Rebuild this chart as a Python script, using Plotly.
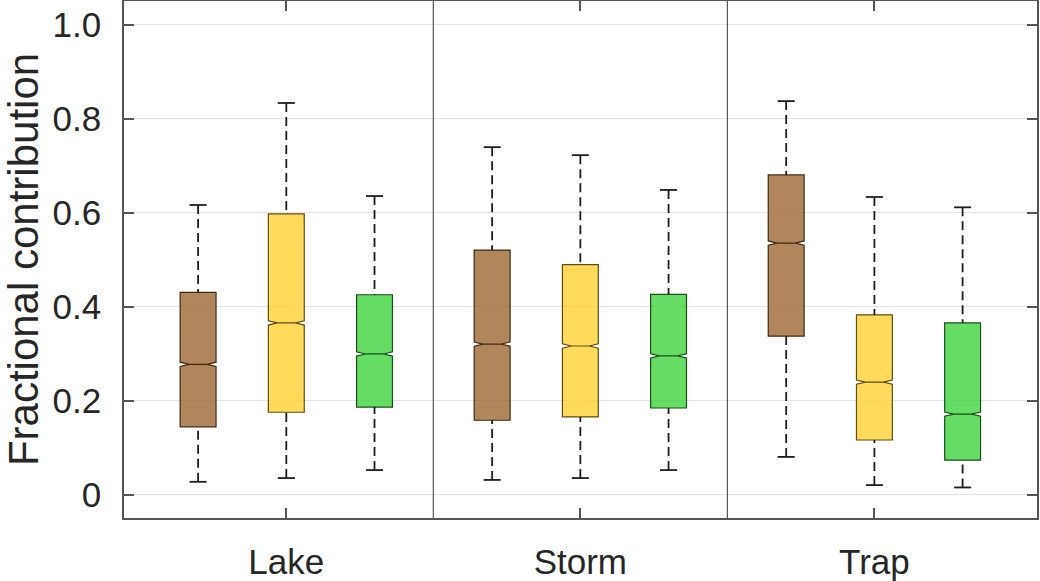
import plotly.graph_objects as go

categories = ["Lake", "Storm", "Trap"]
sources = ["Brown", "Yellow", "Green"]

# per source: values for Lake, Storm, Trap
upper = {"Brown": [0.616, 0.739, 0.837], "Yellow": [0.833, 0.722, 0.633], "Green": [0.635, 0.648, 0.611]}
q3 = {"Brown": [0.430, 0.520, 0.680], "Yellow": [0.597, 0.489, 0.382], "Green": [0.425, 0.426, 0.365]}
median = {"Brown": [0.277, 0.320, 0.535], "Yellow": [0.365, 0.316, 0.239], "Green": [0.299, 0.295, 0.171]}
q1 = {"Brown": [0.144, 0.158, 0.337], "Yellow": [0.175, 0.165, 0.116], "Green": [0.186, 0.184, 0.073]}
lower = {"Brown": [0.027, 0.031, 0.080], "Yellow": [0.035, 0.035, 0.020], "Green": [0.052, 0.052, 0.015]}

fills = {"Brown": "rgba(156,100,46,0.78)", "Yellow": "rgba(255,207,45,0.78)", "Green": "rgba(58,212,58,0.78)"}
edges = {"Brown": "#3e2a10", "Yellow": "#5e4c14", "Green": "#1a4f1a"}
offsets = {"Brown": -0.3, "Yellow": 0.0, "Green": 0.3}

BOX_W = 0.122
CAP_HALF = 0.029
TXT = "#262626"
AX = "#555555"

fig = go.Figure()

# whiskers (dashed) and caps (solid)
wx, wy, cx, cy = [], [], [], []
for s in sources:
    for i in range(len(categories)):
        xc = i + offsets[s]
        wx += [xc, xc, None, xc, xc, None]
        wy += [upper[s][i], q3[s][i], None, lower[s][i], q1[s][i], None]
        cx += [xc - CAP_HALF, xc + CAP_HALF, None, xc - CAP_HALF, xc + CAP_HALF, None]
        cy += [upper[s][i], upper[s][i], None, lower[s][i], lower[s][i], None]

fig.add_trace(go.Scatter(x=wx, y=wy, mode="lines", line=dict(color="#1e1e1e", width=1.8, dash="9px,5px"),
                         hoverinfo="skip", showlegend=False))
fig.add_trace(go.Scatter(x=cx, y=cy, mode="lines", line=dict(color="#1e1e1e", width=1.8),
                         hoverinfo="skip", showlegend=False))

for s in sources:
    xs = [i + offsets[s] for i in range(len(categories))]
    fig.add_trace(go.Box(
        x=xs, q1=q1[s], median=median[s], q3=q3[s],
        lowerfence=q1[s], upperfence=q3[s],
        notched=True, notchspan=[0.0045] * 3, notchwidth=0.25,
        width=BOX_W, whiskerwidth=0, boxpoints=False,
        fillcolor=fills[s], line=dict(color=edges[s], width=1.2),
        name=s, showlegend=False,
    ))

for xsep in [0.5, 1.5]:
    fig.add_shape(type="line", xref="x", yref="paper", x0=xsep, x1=xsep, y0=0, y1=1,
                  line=dict(color=AX, width=1.2))

yt = [0, 0.2, 0.4, 0.6, 0.8, 1.0]
fig.update_layout(
    width=1040, height=581,
    margin=dict(l=124, r=3, t=1, b=63),
    paper_bgcolor="white", plot_bgcolor="white",
    font=dict(family="Liberation Sans, Arial, sans-serif", color=TXT, size=34),
    xaxis=dict(range=[-0.552, 2.553], tickvals=[0, 1, 2], ticktext=categories, automargin=False,
               showgrid=False, zeroline=False, showline=True, linecolor=AX, linewidth=1.5,
               mirror="ticks", ticks="inside", ticklen=10, tickwidth=1.5, tickcolor=AX,
               ticklabelstandoff=12, tickfont=dict(size=35, color=TXT)),
    yaxis=dict(range=[-0.05, 1.05], tickvals=yt, ticktext=["0", "0.2", "0.4", "0.6", "0.8", "1.0"],
               automargin=False,
               showgrid=True, gridcolor="#e3e3e3", gridwidth=1.2, zeroline=False,
               showline=True, linecolor=AX, linewidth=1.5,
               mirror="ticks", ticks="inside", ticklen=10, tickwidth=1.5, tickcolor=AX,
               ticklabelstandoff=14, tickfont=dict(size=35, color=TXT),
               title=dict(text="Fractional contribution", font=dict(size=42, color=TXT), standoff=10)),
)

fig.write_html("out.html")
